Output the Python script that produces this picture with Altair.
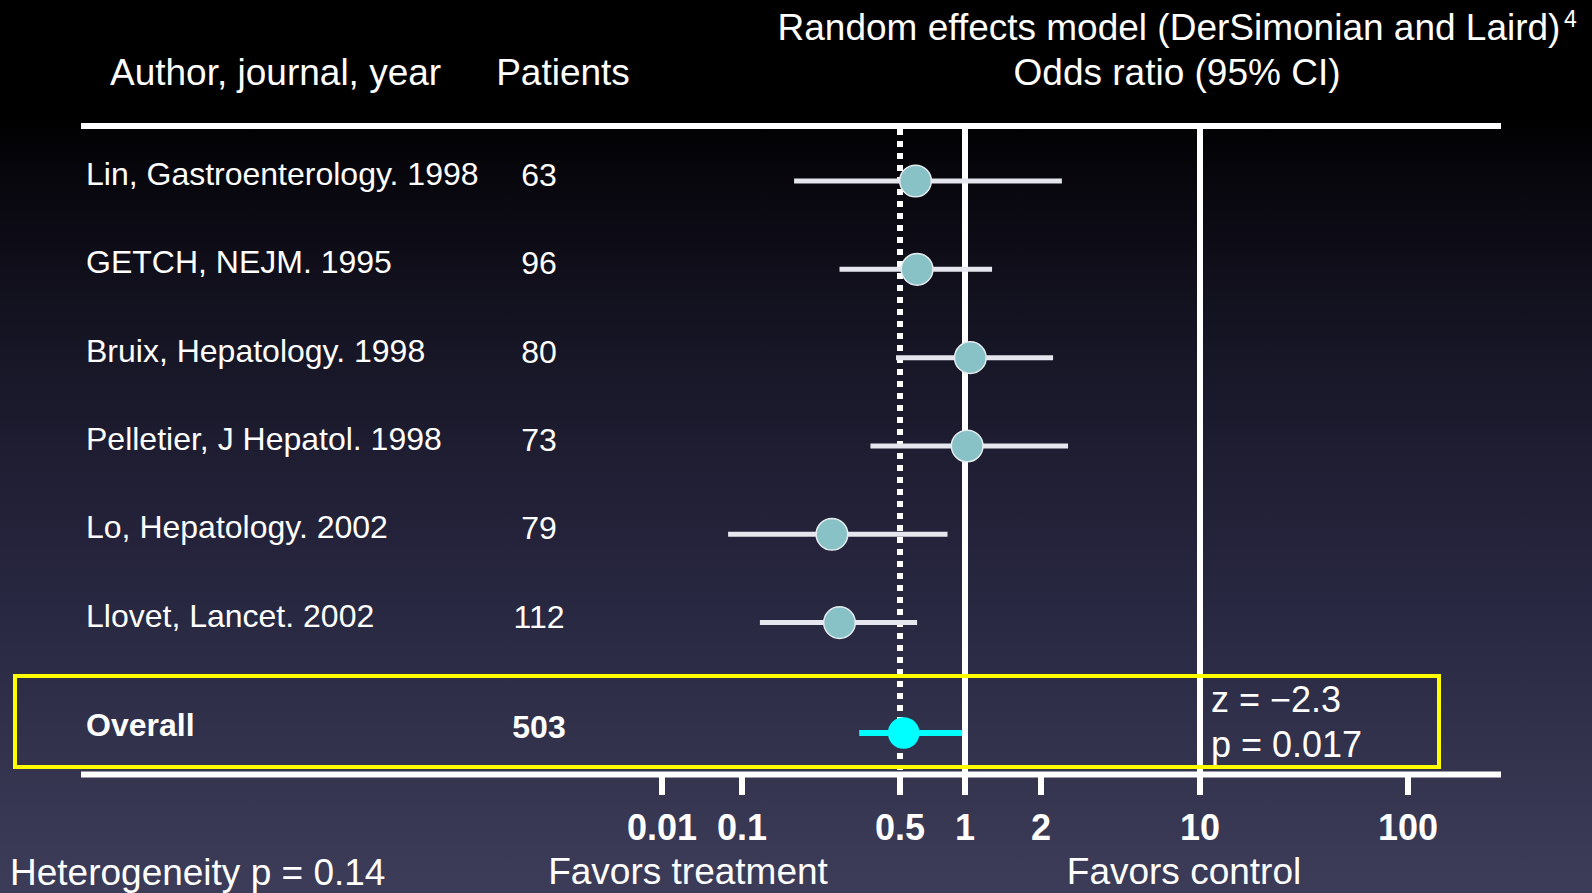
import altair as alt
import pandas as pd

# ---------------- data ----------------
authors = [
    "Lin, Gastroenterology. 1998",
    "GETCH, NEJM. 1995",
    "Bruix, Hepatology. 1998",
    "Pelletier, J Hepatol. 1998",
    "Lo, Hepatology. 2002",
    "Llovet, Lancet. 2002",
]
patients = [63, 96, 80, 73, 79, 112]
odds_ratio = [0.59, 0.60, 1.05, 1.02, 0.25, 0.27]
ci_low = [0.17, 0.27, 0.48, 0.37, 0.067, 0.12]
ci_high = [2.47, 1.28, 2.26, 2.63, 0.83, 0.60]
row_pos = [1, 2, 3, 4, 5, 6]

overall_label = ["Overall"]
overall_patients = [503]
overall_or = [0.52]
overall_low = [0.33]
overall_high = [0.97]
overall_row = [7.25]

tick_values = [0.01, 0.1, 0.5, 1, 2, 10, 100]
ref_solid = [1, 10]
ref_dotted = [0.5]

title_line1 = "Random effects model (DerSimonian and Laird)"
title_sup = "4"
title_line2 = "Odds ratio (95% CI)"
head_author = "Author, journal, year"
head_patients = "Patients"
stat_z = "z = \u22122.3"
stat_p = "p = 0.017"
foot_het = "Heterogeneity p = 0.14"
foot_treat = "Favors treatment"
foot_ctrl = "Favors control"

# ---------------- tables ----------------
studies = pd.DataFrame({
    "author": authors, "patients": patients, "or": odds_ratio,
    "lo": ci_low, "hi": ci_high, "row": row_pos,
})
overall = pd.DataFrame({
    "author": overall_label, "patients": overall_patients, "or": overall_or,
    "lo": overall_low, "hi": overall_high, "row": overall_row,
})
ticks_df = pd.DataFrame({"v": tick_values})

FONT = "Liberation Sans"
W, H, PB = 1592, 775, 118

xscale = alt.Scale(type="log", domain=tick_values,
                   range=[662, 742, 900, 965, 1041, 1200, 1408], nice=False)
yscale = alt.Scale(domain=[1, 7.25], range=[181, 733], nice=False, zero=False)

X = lambda f: alt.X(f, type="quantitative", scale=xscale, axis=None)
Y = lambda f: alt.Y(f, type="quantitative", scale=yscale, axis=None)


def one(text):
    return pd.DataFrame({"t": [text]})


def label(text, x, y, size=37, align="left", weight="normal"):
    return alt.Chart(one(text)).mark_text(
        align=align, baseline="alphabetic", fontSize=size, color="white",
        font=FONT, fontWeight=weight,
    ).encode(x=alt.value(x), y=alt.value(y), text="t:N")


# background gradient
bg = alt.Chart(one("bg")).mark_rect(
    color=alt.LinearGradient(
        gradient="linear", x1=0, x2=0, y1=0, y2=1,
        stops=[
            alt.GradientStop(offset=0.0, color="#000000"),
            alt.GradientStop(offset=0.13, color="#000000"),
            alt.GradientStop(offset=0.19, color="#07060c"),
            alt.GradientStop(offset=0.41, color="#181728"),
            alt.GradientStop(offset=0.64, color="#26253e"),
            alt.GradientStop(offset=0.97, color="#3b3b57"),
            alt.GradientStop(offset=1.0, color="#3c3c58"),
        ],
    )
).encode(x=alt.value(0), x2=alt.value(W), y=alt.value(0), y2=alt.value(H + PB))

# odds-ratio axis: tick marks and labels positioned by the x scale
tick_marks = alt.Chart(ticks_df).mark_rule(color="white", strokeWidth=6).encode(
    x=X("v"), y=alt.value(775), y2=alt.value(795))
tick_labels = alt.Chart(ticks_df).mark_text(
    align="center", baseline="alphabetic", fontSize=36, fontWeight="bold",
    color="white", font=FONT,
).encode(x=X("v"), y=alt.value(840), text=alt.Text("v:Q", format="~g"))

hline_top = alt.Chart(one("a")).mark_rule(color="white", strokeWidth=6).encode(
    x=alt.value(81), x2=alt.value(1501), y=alt.value(126))
hline_bot = alt.Chart(one("b")).mark_rule(color="white", strokeWidth=6).encode(
    x=alt.value(81), x2=alt.value(1501), y=alt.value(774.5))

ref_lines = alt.Chart(pd.DataFrame({"v": ref_solid})).mark_rule(
    color="white", strokeWidth=6).encode(x=X("v"), y=alt.value(126), y2=alt.value(775))
dot_line = alt.Chart(pd.DataFrame({"v": ref_dotted})).mark_rule(
    color="white", strokeWidth=6, strokeDash=[6, 6]).encode(
    x=X("v"), y=alt.value(129), y2=alt.value(770))

box = alt.Chart(one("box")).mark_rect(
    fill="transparent", stroke="#ffff00", strokeWidth=4).encode(
    x=alt.value(15), x2=alt.value(1439), y=alt.value(676), y2=alt.value(767))

ci = alt.Chart(studies).mark_rule(color="#e6e6ee", strokeWidth=5).encode(
    x=X("lo"), x2="hi:Q", y=Y("row"))
pts = alt.Chart(studies).mark_circle(
    size=1000, fill="#88c1c6", stroke="#e4ecee", strokeWidth=1.5, opacity=1).encode(
    x=X("or"), y=Y("row"))

ci_all = alt.Chart(overall).mark_rule(color="#00ffff", strokeWidth=6).encode(
    x=X("lo"), x2="hi:Q", y=Y("row"))
pt_all = alt.Chart(overall).mark_circle(size=1000, color="#00ffff", opacity=1).encode(
    x=X("or"), y=Y("row"))

txt_auth = alt.Chart(studies).mark_text(
    align="left", baseline="alphabetic", dy=4, fontSize=32, color="white", font=FONT
).encode(x=alt.value(86), y=Y("row"), text="author:N")
txt_pat = alt.Chart(studies).mark_text(
    align="center", baseline="alphabetic", dy=5, fontSize=32, color="white", font=FONT
).encode(x=alt.value(539), y=Y("row"), text="patients:N")
txt_auth_all = alt.Chart(overall).mark_text(
    align="left", baseline="alphabetic", dy=3, fontSize=32, color="white",
    font=FONT, fontWeight="bold"
).encode(x=alt.value(86), y=Y("row"), text="author:N")
txt_pat_all = alt.Chart(overall).mark_text(
    align="center", baseline="alphabetic", dy=5, fontSize=32, color="white",
    font=FONT, fontWeight="bold"
).encode(x=alt.value(539), y=Y("row"), text="patients:N")

texts = [
    label(title_line1, 1169, 40, align="center"),
    label(title_sup, 1564, 27, size=23),
    label(title_line2, 1177, 85, align="center"),
    label(head_author, 110, 85),
    label(head_patients, 563, 85, align="center"),
    label(stat_z, 1211, 712, size=36),
    label(stat_p, 1211, 757, size=36),
    label(foot_het, 10, 885),
    label(foot_treat, 688, 884, align="center"),
    label(foot_ctrl, 1184, 884, align="center"),
]

chart = alt.layer(
    bg, hline_top, hline_bot, tick_marks, tick_labels, dot_line, ref_lines, ci, pts,
    ci_all, pt_all, box, txt_auth, txt_pat, txt_auth_all, txt_pat_all, *texts,
).properties(
    width=W, height=H,
    padding={"left": 0, "top": 0, "right": 0, "bottom": PB},
    autosize=alt.AutoSizeParams(type="none"),
    background="#000000",
).configure_view(stroke=None).configure(font=FONT)

chart.save("out.html", embed_options={"renderer": "svg", "actions": False})
